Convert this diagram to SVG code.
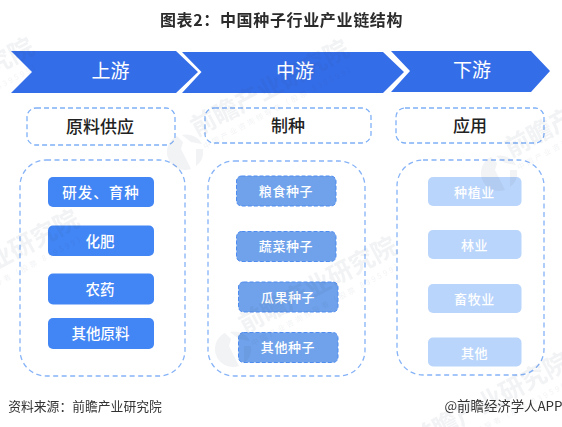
<svg xmlns="http://www.w3.org/2000/svg" xmlns:xlink="http://www.w3.org/1999/xlink" width="562" height="427" viewBox="0 0 562 427">
<style>
text{font-family:"Noto Sans CJK SC","Liberation Sans",sans-serif;text-anchor:middle}
.arrow{fill:#346de8}
.atx{fill:#fff;font-size:19px}
.hd{fill:#fff;stroke:#7fb0f7;stroke-width:1.3;stroke-dasharray:5 3}
.htx{fill:#222;font-size:17px;font-weight:500}
.grp{fill:none;stroke:#86b3f7;stroke-width:1.3;stroke-dasharray:5 3.500}
.i1{fill:#4285f4}
.i2{fill:#6fa2eb;stroke:#4f8cf0;stroke-width:1;stroke-dasharray:4 2}
.i3{fill:#bad5fb}
.t1{fill:#fff;font-size:14.500px;font-weight:500}
.t2{fill:#fff;font-size:13px;letter-spacing:.6px;font-weight:500}
.t3{fill:#fff;font-size:13px;letter-spacing:.6px;font-weight:500}
.wm{fill:#3b4a66;opacity:.07}
.wmb{font-size:25px;font-weight:700}
.wms{font-size:7.500px;letter-spacing:2.400px}
.src{fill:#333;font-size:12.800px}
</style>
<defs>
<g id="wm">
<path d="M-4 -3L6 17A18 18 0 0 1 -17 -6A18 18 0 0 1 -8 -16L-2 -10Z"/>
<path d="M-3 -17A18 18 0 0 1 17 -8L6 -10Z"/>
<path d="M11 -3L18 -3A18 18 0 0 1 11 14Z"/>
<text class="wmb" x="105" y="-8" transform="rotate(-28)">前瞻产业研究院</text>
<text class="wms" x="105" y="7" transform="rotate(-28)">中国产业咨询领导者（股票 839599）</text>
</g>
</defs>
<rect width="562" height="427" fill="#fff"/>
<g id="arrows">
<g id="arrow-up"><polygon class="arrow" points="11,51 176,51 198,72 176,93 11,93 32,72"/><text class="atx" x="110.500" y="78">上游</text></g>
<g id="arrow-mid"><polygon class="arrow" points="182,52 383,52 404,72 383,93 182,93 201.500,72"/><text class="atx" x="295" y="78">中游</text></g>
<g id="arrow-down"><polygon class="arrow" points="391,51 531,51 550,71 531,92 391,92 410,71"/><text class="atx" x="472" y="77">下游</text></g>
</g>
<g id="hd-1"><rect class="hd" x="27" y="108" width="148" height="37" rx="9"/><text class="htx" x="100" y="133">原料供应</text></g>
<g id="hd-2"><rect class="hd" x="205" y="108" width="166" height="35" rx="9"/><text class="htx" x="288" y="132">制种</text></g>
<g id="hd-3"><rect class="hd" x="396" y="108" width="148" height="35" rx="9"/><text class="htx" x="470" y="132">应用</text></g>
<g id="grp-1"><rect class="grp" x="20" y="160" width="165" height="216" rx="26"/></g>
<g id="grp-2"><rect class="grp" x="208" y="161" width="157" height="215" rx="26"/></g>
<g id="grp-3"><rect class="grp" x="397" y="160" width="147" height="215" rx="26"/></g>
<g id="a1"><rect class="i1" x="48" y="177" width="106" height="30" rx="5"/><text class="t1" x="101" y="198" letter-spacing="1">研发、育种</text></g>
<g id="a2"><rect class="i1" x="48" y="225.500" width="106" height="30.500" rx="5"/><text class="t1" x="100" y="247">化肥</text></g>
<g id="a3"><rect class="i1" x="48" y="273.500" width="106" height="31" rx="5"/><text class="t1" x="100" y="295">农药</text></g>
<g id="a4"><rect class="i1" x="48" y="318" width="106" height="31" rx="5"/><text class="t1" x="100.500" y="339">其他原料</text></g>
<g id="b1"><rect class="i2" x="236.500" y="176" width="99.500" height="30" rx="5"/><text class="t2" x="286" y="196">粮食种子</text></g>
<g id="b2"><rect class="i2" x="236.500" y="231.500" width="99.500" height="30" rx="5"/><text class="t2" x="286" y="251">蔬菜种子</text></g>
<g id="b3"><rect class="i2" x="238.500" y="282" width="99.500" height="30" rx="5"/><text class="t2" x="288" y="302">瓜果种子</text></g>
<g id="b4"><rect class="i2" x="238.500" y="332.500" width="99.500" height="30" rx="5"/><text class="t2" x="288" y="352">其他种子</text></g>
<g id="c1"><rect class="i3" x="428" y="177" width="93.500" height="29" rx="5"/><text class="t3" x="474.500" y="197">种植业</text></g>
<g id="c2"><rect class="i3" x="428" y="230" width="93.500" height="29" rx="5"/><text class="t3" x="474.500" y="250">林业</text></g>
<g id="c3"><rect class="i3" x="428" y="284" width="93.500" height="29" rx="5"/><text class="t3" x="474.500" y="304">畜牧业</text></g>
<g id="c4"><rect class="i3" x="428" y="337.500" width="93.500" height="29" rx="5"/><text class="t3" x="474.500" y="358">其他</text></g>
<g id="watermarks" class="wm">
<use xlink:href="#wm" href="#wm" x="185" y="152"/>
<use xlink:href="#wm" href="#wm" x="233" y="349"/>
<use xlink:href="#wm" href="#wm" x="499" y="173"/>
<use xlink:href="#wm" href="#wm" x="-85" y="322"/>
<use xlink:href="#wm" href="#wm" x="-130" y="150"/>
<use xlink:href="#wm" href="#wm" x="405" y="465"/>
</g>
<text x="281.500" y="26" fill="#2b2b2b" font-size="16" font-weight="700" letter-spacing=".65">图表2：中国种子行业产业链结构</text>
<text class="src" x="85" y="411">资料来源：前瞻产业研究院</text>
<text class="src" x="503.500" y="411" style="font-size:13.400px">@前瞻经济学人APP</text>
</svg>
